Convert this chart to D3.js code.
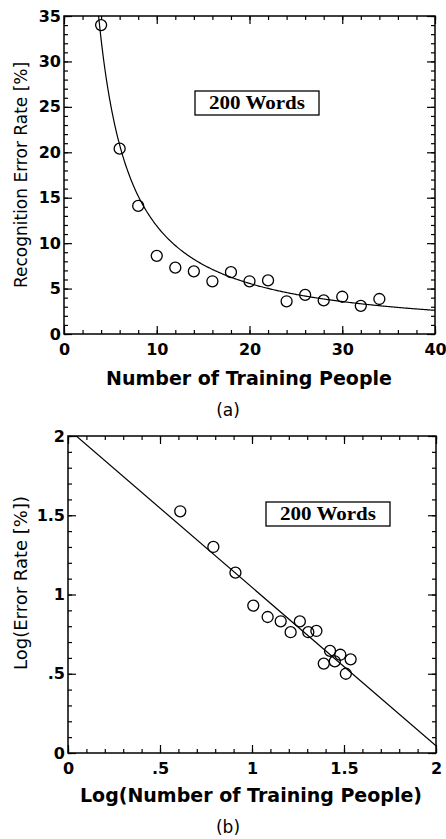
<!DOCTYPE html>
<html>
<head>
<meta charset="utf-8">
<script src="https://cdn.jsdelivr.net/npm/d3@7"></script>
<style>
  body { margin: 0; background: #fff; }
  svg { display: block; }
  .axis line { stroke: #000; stroke-width: 1.2; }
  .axis path { display: none; }
  .axis text { font-family: "DejaVu Sans", sans-serif; font-weight: bold; font-size: 16px; fill: #000; }
  .title { font-family: "DejaVu Sans", sans-serif; font-weight: bold; font-size: 19px; }
  .ylab { font-family: "DejaVu Sans", sans-serif; font-size: 17px; }
  .cap { font-family: "DejaVu Sans", sans-serif; font-size: 17px; }
  .box text { font-family: "Liberation Serif", "Times New Roman", serif; font-weight: bold; font-size: 18px; }
</style>
</head>
<body>
<script>
// (a) error rate vs number of training people
const people = [4, 6, 8, 10, 12, 14, 16, 18, 20, 22, 24, 26, 28, 30, 32, 34];
const errorRate = [34, 20.4, 14.1, 8.6, 7.3, 6.9, 5.8, 6.8, 5.8, 5.9, 3.6, 4.3, 3.7, 4.1, 3.1, 3.85];

// (b) log-log version
const logPeople = [0.61, 0.79, 0.91, 1.007, 1.085, 1.156, 1.21, 1.26, 1.306, 1.35, 1.39, 1.424, 1.45, 1.48, 1.51, 1.536];
const logError = [1.525, 1.30, 1.138, 0.93, 0.858, 0.831, 0.762, 0.83, 0.762, 0.77, 0.564, 0.644, 0.578, 0.62, 0.50, 0.591];

// fitted curves: y = fitCoef * x^-fitExp  (a),  y = lineIntercept + lineSlope * x  (b)
const fitCoef = 148, fitExp = 1.095;
const lineIntercept = 2.045, lineSlope = -1.0;

// ticks
const xTicksA = [0, 10, 20, 30, 40];
const yTicksA = [0, 5, 10, 15, 20, 25, 30, 35];
const xTicksB = [0, 0.5, 1, 1.5, 2];
const yTicksB = [0, 0.5, 1, 1.5, 2];

const svg = d3.select('body').append('svg')
  .attr('width', 446)
  .attr('height', 839);

function drawFrame(x, y, box, xMajor, xMinor, yMajor, yMinor, fmt) {
  const g = svg.append('g');
  // minor ticks on all sides
  g.append('g').attr('class', 'axis').attr('transform', `translate(0,${box.bottom})`)
    .call(d3.axisBottom(x).tickValues(xMinor).tickSize(-4).tickFormat(''));
  g.append('g').attr('class', 'axis').attr('transform', `translate(0,${box.top})`)
    .call(d3.axisTop(x).tickValues(xMinor).tickSize(-4).tickFormat(''));
  g.append('g').attr('class', 'axis').attr('transform', `translate(${box.left},0)`)
    .call(d3.axisLeft(y).tickValues(yMinor).tickSize(-4).tickFormat(''));
  g.append('g').attr('class', 'axis').attr('transform', `translate(${box.right},0)`)
    .call(d3.axisRight(y).tickValues(yMinor).tickSize(-4).tickFormat(''));
  // major ticks + labels
  g.append('g').attr('class', 'axis').attr('transform', `translate(0,${box.bottom})`)
    .call(d3.axisBottom(x).tickValues(xMajor).tickSizeInner(-8).tickSizeOuter(0).tickPadding(10).tickFormat(fmt));
  g.append('g').attr('class', 'axis').attr('transform', `translate(0,${box.top})`)
    .call(d3.axisTop(x).tickValues(xMajor).tickSize(-8).tickFormat(''));
  g.append('g').attr('class', 'axis').attr('transform', `translate(${box.left},0)`)
    .call(d3.axisLeft(y).tickValues(yMajor).tickSizeInner(-8).tickSizeOuter(0).tickPadding(3).tickFormat(fmt));
  g.append('g').attr('class', 'axis').attr('transform', `translate(${box.right},0)`)
    .call(d3.axisRight(y).tickValues(yMajor).tickSize(-8).tickFormat(''));
  // frame
  g.append('rect')
    .attr('x', box.left).attr('y', box.top)
    .attr('width', box.right - box.left).attr('height', box.bottom - box.top)
    .attr('fill', 'none').attr('stroke', '#000').attr('stroke-width', 1.5);
  return g;
}

function labelBox(cx, cy, w, h) {
  const b = svg.append('g').attr('class', 'box');
  b.append('rect')
    .attr('x', cx - w / 2).attr('y', cy - h / 2)
    .attr('width', w).attr('height', h)
    .attr('fill', '#fff').attr('stroke', '#000').attr('stroke-width', 1.3);
  b.append('text')
    .attr('x', cx).attr('y', cy + 6)
    .attr('text-anchor', 'middle')
    .attr('textLength', 96).attr('lengthAdjust', 'spacingAndGlyphs')
    .text('200 Words');
}

// ---------- (a) ----------
const boxA = { left: 64, right: 435, top: 16, bottom: 334 };
const xA = d3.scaleLinear().domain([0, 40]).range([boxA.left, boxA.right]);
const yA = d3.scaleLinear().domain([0, 35]).range([boxA.bottom, boxA.top]);
drawFrame(xA, yA, boxA, xTicksA, d3.range(0, 41, 2), yTicksA, d3.range(0, 36, 1), d3.format('d'));

svg.append('clipPath').attr('id', 'clipA').append('rect')
  .attr('x', boxA.left).attr('y', boxA.top)
  .attr('width', boxA.right - boxA.left).attr('height', boxA.bottom - boxA.top);

const curveX = d3.range(3.5, 40.01, 0.1);
svg.append('path')
  .datum(curveX)
  .attr('clip-path', 'url(#clipA)')
  .attr('fill', 'none').attr('stroke', '#000').attr('stroke-width', 1.2)
  .attr('d', d3.line().x(d => xA(d)).y(d => yA(fitCoef * Math.pow(d, -fitExp))));

svg.append('g').selectAll('circle')
  .data(people)
  .join('circle')
  .attr('cx', d => xA(d))
  .attr('cy', (d, i) => yA(errorRate[i]))
  .attr('r', 5.5)
  .attr('fill', 'none').attr('stroke', '#000').attr('stroke-width', 1.3);

labelBox(257, 103, 124, 24);

svg.append('text').attr('class', 'title')
  .attr('x', 249).attr('y', 385).attr('text-anchor', 'middle')
  .text('Number of Training People');
svg.append('text').attr('class', 'ylab')
  .attr('transform', 'translate(27,175) rotate(-90)').attr('text-anchor', 'middle')
  .text('Recognition Error Rate [%]');
svg.append('text').attr('class', 'cap')
  .attr('x', 228).attr('y', 416).attr('text-anchor', 'middle')
  .text('(a)');

// ---------- (b) ----------
const boxB = { left: 68, right: 436, top: 436, bottom: 753 };
const xB = d3.scaleLinear().domain([0, 2]).range([boxB.left, boxB.right]);
const yB = d3.scaleLinear().domain([0, 2]).range([boxB.bottom, boxB.top]);
const fmtB = d => d === 0 ? '0' : String(d).replace(/^0\./, '.');
drawFrame(xB, yB, boxB, xTicksB, d3.range(0, 2.01, 0.1), yTicksB, d3.range(0, 2.01, 0.1), fmtB);

svg.append('clipPath').attr('id', 'clipB').append('rect')
  .attr('x', boxB.left).attr('y', boxB.top)
  .attr('width', boxB.right - boxB.left).attr('height', boxB.bottom - boxB.top);

svg.append('path')
  .datum([0, 2])
  .attr('clip-path', 'url(#clipB)')
  .attr('fill', 'none').attr('stroke', '#000').attr('stroke-width', 1.2)
  .attr('d', d3.line().x(d => xB(d)).y(d => yB(lineIntercept + lineSlope * d)));

svg.append('g').selectAll('circle')
  .data(logPeople)
  .join('circle')
  .attr('cx', d => xB(d))
  .attr('cy', (d, i) => yB(logError[i]))
  .attr('r', 5.5)
  .attr('fill', 'none').attr('stroke', '#000').attr('stroke-width', 1.3);

labelBox(328, 514, 124, 24);

svg.append('text').attr('class', 'title')
  .attr('x', 251).attr('y', 802).attr('text-anchor', 'middle')
  .text('Log(Number of Training People)');
svg.append('text').attr('class', 'ylab')
  .style('font-size', '18px')
  .attr('transform', 'translate(27,583) rotate(-90)').attr('text-anchor', 'middle')
  .text('Log(Error Rate [%])');
svg.append('text').attr('class', 'cap')
  .attr('x', 228).attr('y', 833).attr('text-anchor', 'middle')
  .text('(b)');
</script>
</body>
</html>
